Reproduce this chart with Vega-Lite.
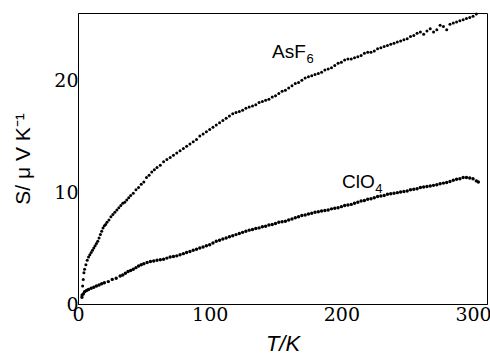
{
  "$schema": "https://vega.github.io/schema/vega-lite/v6.json",
  "width": 409,
  "height": 291,
  "autosize": {"type": "none"},
  "padding": {"left": 78, "top": 13, "right": 3, "bottom": 52},
  "background": "white",
  "config": {
    "view": {"stroke": "black", "strokeWidth": 1},
    "axis": {"grid": false, "domainColor": "black", "tickColor": "black", "labelColor": "black", "titleColor": "black", "labelFlush": false, "labelOverlap": false}
  },
  "datasets": {
    "asf": [
      {"T":3,"S":0.8},{"T":3.5,"S":1.6},{"T":4,"S":2.2},{"T":4.5,"S":2.8},{"T":5,"S":3.1},{"T":6,"S":3.5},{"T":7,"S":3.9},{"T":8,"S":4.2},{"T":9,"S":4.4},{"T":10,"S":4.6},
      {"T":11,"S":4.8},{"T":12,"S":5.0},{"T":13,"S":5.2},{"T":14,"S":5.4},{"T":15,"S":5.6},{"T":16,"S":5.9},{"T":17,"S":6.2},{"T":18,"S":6.5},{"T":19,"S":6.8},{"T":20,"S":7.0},
      {"T":21,"S":7.1},{"T":22,"S":7.3},{"T":23.5,"S":7.5},{"T":25,"S":7.8},{"T":26.5,"S":8.0},{"T":28,"S":8.2},{"T":29.5,"S":8.4},{"T":31,"S":8.6},{"T":32.5,"S":8.8},{"T":34,"S":9.0},
      {"T":35.5,"S":9.1},{"T":37,"S":9.3},{"T":38.5,"S":9.5},{"T":40,"S":9.7},{"T":42,"S":9.9},{"T":44,"S":10.2},{"T":46,"S":10.4},{"T":48,"S":10.7},{"T":50,"S":10.9},{"T":52,"S":11.3},
      {"T":54,"S":11.5},{"T":56,"S":11.8},{"T":58,"S":12.0},{"T":60,"S":12.2},{"T":62.5,"S":12.4},{"T":65,"S":12.7},{"T":67.5,"S":12.9},{"T":70,"S":13.1},{"T":72.5,"S":13.3},{"T":75,"S":13.5},
      {"T":77.5,"S":13.7},{"T":80,"S":13.9},{"T":82.5,"S":14.1},{"T":85,"S":14.3},{"T":87.5,"S":14.5},{"T":90,"S":14.7},{"T":92.5,"S":15.0},{"T":95,"S":15.2},{"T":97.5,"S":15.4},{"T":100,"S":15.6},
      {"T":102.5,"S":15.8},{"T":105,"S":16.0},{"T":107.5,"S":16.2},{"T":110,"S":16.4},{"T":112.5,"S":16.6},{"T":115,"S":16.8},{"T":117.5,"S":17.0},{"T":120,"S":17.1},{"T":122.5,"S":17.2},{"T":125,"S":17.3},
      {"T":127.5,"S":17.5},{"T":130,"S":17.6},{"T":132.5,"S":17.7},{"T":135,"S":17.8},{"T":137.5,"S":18.0},{"T":140,"S":18.1},{"T":142.5,"S":18.2},{"T":145,"S":18.3},{"T":147.5,"S":18.5},{"T":150,"S":18.6},
      {"T":152.5,"S":18.8},{"T":155,"S":19.0},{"T":157.5,"S":19.1},{"T":160,"S":19.3},{"T":162.5,"S":19.5},{"T":165,"S":19.7},{"T":167.5,"S":19.8},{"T":170,"S":20.0},{"T":172.5,"S":20.2},{"T":175,"S":20.3},
      {"T":177.5,"S":20.4},{"T":180,"S":20.5},{"T":182.5,"S":20.6},{"T":185,"S":20.7},{"T":187.5,"S":20.9},{"T":190,"S":21.0},{"T":192.5,"S":21.1},{"T":195,"S":21.3},{"T":197.5,"S":21.5},{"T":200,"S":21.6},
      {"T":202.5,"S":21.8},{"T":205,"S":21.9},{"T":207.5,"S":21.9},{"T":210,"S":22.0},{"T":212.5,"S":22.1},{"T":215,"S":22.2},{"T":217.5,"S":22.4},{"T":220,"S":22.5},{"T":222.5,"S":22.5},{"T":225,"S":22.6},
      {"T":227.5,"S":22.8},{"T":230,"S":22.9},{"T":232.5,"S":23.0},{"T":235,"S":23.1},{"T":237.5,"S":23.2},{"T":240,"S":23.3},{"T":242.5,"S":23.4},{"T":245,"S":23.5},{"T":247.5,"S":23.6},{"T":250,"S":23.7},
      {"T":252.5,"S":23.9},{"T":255,"S":24.0},{"T":257.5,"S":24.2},{"T":260,"S":24.3},{"T":262.5,"S":24.1},{"T":265,"S":24.4},{"T":267.5,"S":24.6},{"T":270,"S":24.3},{"T":272.5,"S":24.5},{"T":275,"S":24.9},
      {"T":277.5,"S":24.8},{"T":280,"S":24.5},{"T":282.5,"S":25.0},{"T":285,"S":25.1},{"T":287.5,"S":25.2},{"T":290,"S":25.3},{"T":292.5,"S":25.4},{"T":295,"S":25.5},{"T":297.5,"S":25.6},{"T":300,"S":25.7},
      {"T":302.5,"S":25.9}
    ],
    "clo": [
      {"T":3,"S":0.6},{"T":4,"S":0.9},{"T":5,"S":1.1},{"T":6.5,"S":1.2},{"T":8,"S":1.3},{"T":10,"S":1.4},{"T":12,"S":1.5},{"T":14,"S":1.6},{"T":16,"S":1.7},{"T":18,"S":1.8},
      {"T":20,"S":1.9},{"T":23,"S":2.0},{"T":26,"S":2.2},{"T":29,"S":2.3},{"T":32,"S":2.5},{"T":34,"S":2.6},{"T":36,"S":2.75},{"T":38,"S":2.9},{"T":40,"S":3.0},{"T":42,"S":3.1},
      {"T":44,"S":3.25},{"T":46,"S":3.4},{"T":48,"S":3.5},{"T":50,"S":3.6},{"T":52.5,"S":3.7},{"T":55,"S":3.8},{"T":57.5,"S":3.85},{"T":60,"S":3.9},{"T":62.5,"S":3.95},{"T":65,"S":4.0},
      {"T":67.5,"S":4.1},{"T":70,"S":4.2},{"T":72.5,"S":4.25},{"T":75,"S":4.3},{"T":77.5,"S":4.4},{"T":80,"S":4.5},{"T":82.5,"S":4.6},{"T":85,"S":4.7},{"T":87.5,"S":4.8},{"T":90,"S":4.9},
      {"T":92.5,"S":5.0},{"T":95,"S":5.1},{"T":97.5,"S":5.2},{"T":100,"S":5.3},{"T":102.5,"S":5.45},{"T":105,"S":5.6},{"T":107.5,"S":5.7},{"T":110,"S":5.8},{"T":112.5,"S":5.9},{"T":115,"S":6.0},
      {"T":117.5,"S":6.1},{"T":120,"S":6.2},{"T":122.5,"S":6.3},{"T":125,"S":6.4},{"T":127.5,"S":6.5},{"T":130,"S":6.6},{"T":132.5,"S":6.65},{"T":135,"S":6.75},{"T":137.5,"S":6.8},{"T":140,"S":6.9},
      {"T":142.5,"S":6.95},{"T":145,"S":7.05},{"T":147.5,"S":7.1},{"T":150,"S":7.2},{"T":152.5,"S":7.3},{"T":155,"S":7.35},{"T":157.5,"S":7.4},{"T":160,"S":7.5},{"T":162.5,"S":7.6},{"T":165,"S":7.7},
      {"T":167.5,"S":7.8},{"T":170,"S":7.9},{"T":172.5,"S":7.95},{"T":175,"S":8.05},{"T":177.5,"S":8.1},{"T":180,"S":8.2},{"T":182.5,"S":8.25},{"T":185,"S":8.3},{"T":187.5,"S":8.35},{"T":190,"S":8.4},
      {"T":192.5,"S":8.5},{"T":195,"S":8.55},{"T":197.5,"S":8.6},{"T":200,"S":8.7},{"T":202.5,"S":8.8},{"T":205,"S":8.85},{"T":207.5,"S":8.9},{"T":210,"S":9.0},{"T":212.5,"S":9.1},{"T":215,"S":9.2},
      {"T":217.5,"S":9.25},{"T":220,"S":9.35},{"T":222.5,"S":9.4},{"T":225,"S":9.5},{"T":227.5,"S":9.6},{"T":230,"S":9.65},{"T":232.5,"S":9.7},{"T":235,"S":9.8},{"T":237.5,"S":9.85},{"T":240,"S":9.9},
      {"T":242.5,"S":9.95},{"T":245,"S":10.0},{"T":247.5,"S":10.05},{"T":250,"S":10.1},{"T":252.5,"S":10.2},{"T":255,"S":10.25},{"T":257.5,"S":10.3},{"T":260,"S":10.4},{"T":262.5,"S":10.45},{"T":265,"S":10.5},
      {"T":267.5,"S":10.55},{"T":270,"S":10.6},{"T":272.5,"S":10.65},{"T":275,"S":10.75},{"T":277.5,"S":10.8},{"T":280,"S":10.85},{"T":282.5,"S":10.95},{"T":285,"S":11.05},{"T":287.5,"S":11.15},{"T":290,"S":11.2},
      {"T":292.5,"S":11.3},{"T":295,"S":11.3},{"T":297.5,"S":11.25},{"T":300,"S":11.2},{"T":302.5,"S":11.0},{"T":304,"S":10.9}
    ],
    "labels": [
      {"T":147.3,"S":22.0,"text":"AsF"},
      {"T":200.5,"S":10.4,"text":"ClO"}
    ],
    "subs": [
      {"T":173.5,"S":21.5,"text":"6"},
      {"T":225.8,"S":9.9,"text":"4"}
    ]
  },
  "encoding": {
    "x": {"field": "T", "type": "quantitative", "scale": {"domain": [0, 310.6], "nice": false, "zero": false},
          "axis": {"orient": "bottom", "values": [0, 100, 200, 300], "ticks": false, "labelPadding": 1, "labelFont": "DejaVu Serif", "labelFontSize": 19, "title": "T/K", "titleFont": "Liberation Sans", "titleFontStyle": "italic", "titleFontWeight": "normal", "titleFontSize": 22, "titlePadding": 9, "domainWidth": 1}},
    "y": {"field": "S", "type": "quantitative", "scale": {"domain": [0, 26], "nice": false, "zero": false},
          "axis": {"orient": "left", "values": [0, 10, 20], "ticks": false, "labelPadding": 0, "labelFont": "DejaVu Serif", "labelFontSize": 19, "title": "S/ μ V K⁻¹", "titleFont": "Liberation Sans", "titleFontWeight": "normal", "titleFontSize": 21, "titlePadding": 20, "domainWidth": 1}}
  },
  "layer": [
    {
      "data": {"name": "asf"},
      "mark": {"type": "circle", "size": 9, "color": "black", "opacity": 1}
    },
    {
      "data": {"name": "clo"},
      "mark": {"type": "circle", "size": 12, "color": "black", "opacity": 1}
    },
    {
      "data": {"name": "labels"},
      "mark": {"type": "text", "align": "left", "baseline": "alphabetic", "font": "Liberation Sans", "fontSize": 19, "color": "black"},
      "encoding": {"text": {"field": "text"}}
    },
    {
      "data": {"name": "subs"},
      "mark": {"type": "text", "align": "left", "baseline": "alphabetic", "font": "Liberation Sans", "fontSize": 13, "color": "black"},
      "encoding": {"text": {"field": "text"}}
    }
  ]
}
